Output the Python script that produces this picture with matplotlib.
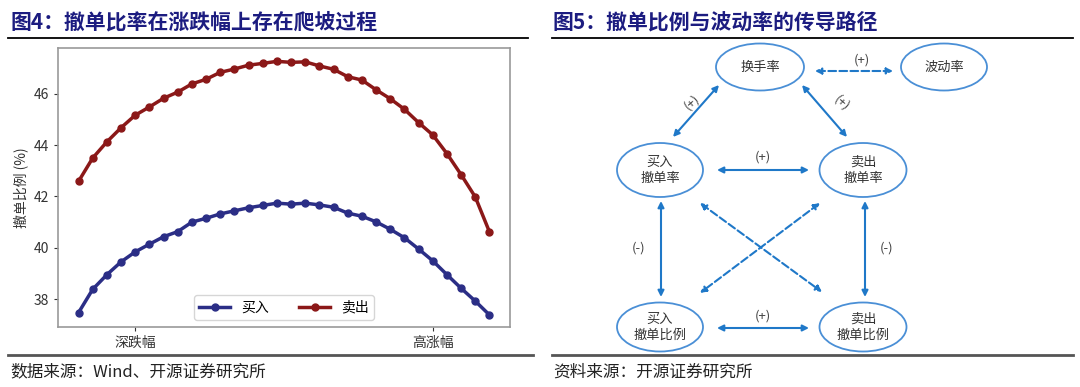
import numpy as np
import matplotlib.pyplot as plt
from matplotlib.patches import Ellipse, FancyArrowPatch

plt.rcParams['font.family'] = ['Noto Sans CJK SC', 'DejaVu Sans']

# 撤单比例 (%) across 30 buckets, from deep drop to high rise
buy_cancel = [37.47, 38.38, 38.95, 39.45, 39.84, 40.14, 40.43, 40.63, 41.00, 41.15,
              41.32, 41.44, 41.56, 41.65, 41.74, 41.70, 41.74, 41.67, 41.58, 41.35,
              41.23, 41.01, 40.72, 40.39, 39.95, 39.49, 38.95, 38.42, 37.92, 37.38]
sell_cancel = [42.59, 43.50, 44.13, 44.68, 45.17, 45.49, 45.83, 46.07, 46.39, 46.57,
               46.84, 46.97, 47.12, 47.19, 47.27, 47.23, 47.25, 47.09, 46.96, 46.67,
               46.54, 46.16, 45.81, 45.40, 44.88, 44.40, 43.67, 42.85, 41.98, 40.62]
tick_pos = [4, 25]
tick_labels = ['深跌幅', '高涨幅']
series_names = ['买入', '卖出']

# flow diagram: node name -> (label, x, y, w, h) in pixels
nodes = {
    'turnover': ('换手率', 760, 67, 88, 47),
    'vol': ('波动率', 944, 67, 86, 47),
    'buy_rate': ('买入\n撤单率', 660, 170, 86, 54),
    'sell_rate': ('卖出\n撤单率', 863, 170, 87, 54),
    'buy_ratio': ('买入\n撤单比例', 660, 327, 86, 49),
    'sell_ratio': ('卖出\n撤单比例', 863, 327, 87, 49),
}
# links: start, end, dashed, label, label pos, label rotation
links = [
    ((815, 71), (893, 71), True, '(+)', (862, 60), 0),
    ((719, 85), (673, 137), False, '(+)', (692, 102), 42),
    ((802, 85), (847, 137), False, '(+)', (842, 103), -42),
    ((717, 170), (809, 170), False, '(+)', (763, 157), 0),
    ((661, 201), (661, 297), False, '(-)', (639, 248), 0),
    ((865, 201), (865, 297), False, '(-)', (887, 248), 0),
    ((700, 203), (822, 292), True, None, None, 0),
    ((820, 203), (700, 293), True, None, None, 0),
    ((717, 328), (809, 328), False, '(+)', (763, 316), 0),
]

fig = plt.figure(figsize=(10.8, 3.87), dpi=100)

# page layer in pixel coordinates
page = fig.add_axes([0, 0, 1, 1])
page.set_xlim(0, 1080)
page.set_ylim(387, 0)
page.axis('off')

title_color = '#1c1c80'
page.text(10, 22, '图4：撤单比率在涨跌幅上存在爬坡过程', fontsize=15, fontweight='bold',
          color=title_color, va='center', ha='left')
page.text(553, 22, '图5：撤单比例与波动率的传导路径', fontsize=15, fontweight='bold',
          color=title_color, va='center', ha='left')
page.plot([8, 528], [38, 38], color='black', lw=1.3)
page.plot([552, 1073], [38, 38], color='black', lw=1.3)
page.plot([8, 533], [355, 355], color='#555555', lw=2)
page.plot([552, 1073], [355, 355], color='#555555', lw=2)
page.text(10, 372, '数据来源：Wind、开源证券研究所', fontsize=12, color='#222222',
          va='center', ha='left')
page.text(553, 372, '资料来源：开源证券研究所', fontsize=12, color='#222222',
          va='center', ha='left')

edge_c = '#4a8fd6'
arrow_c = '#1f78c8'
for key, (label, cx, cy, w, h) in nodes.items():
    page.add_patch(Ellipse((cx, cy), w, h, fill=False, ec=edge_c, lw=1.3))
    page.text(cx, cy, label, fontsize=9.5, color='#333333', ha='center', va='center',
              linespacing=1.3)

for start, end, dashed, label, lpos, rot in links:
    arr = FancyArrowPatch(start, end, arrowstyle='<|-|>', mutation_scale=9,
                          color=arrow_c, lw=1.5, linestyle='--' if dashed else '-',
                          shrinkA=0, shrinkB=0)
    page.add_patch(arr)
    if label:
        page.text(lpos[0], lpos[1], label, fontsize=9.5, color='#444444',
                  ha='center', va='center', rotation=rot)

# left line chart
ax = fig.add_axes([58 / 1080, 1 - 327 / 387, 452 / 1080, 279 / 387])
x = np.arange(len(buy_cancel))
ax.plot(x, buy_cancel, color='#2b2e86', lw=2.5, marker='o', ms=5, label=series_names[0])
ax.plot(x, sell_cancel, color='#8b1818', lw=2.5, marker='o', ms=5, label=series_names[1])
ax.set_ylim(36.91, 47.79)
ax.set_yticks([38, 40, 42, 44, 46])
ax.set_xticks(tick_pos)
ax.set_xticklabels(tick_labels)
ax.set_ylabel('撤单比例 (%)', fontsize=10, color='#333333')
ax.tick_params(labelsize=10, colors='#333333', length=3)
for sp in ax.spines.values():
    sp.set_color('#999999')
    sp.set_linewidth(1.2)
ax.legend(loc='lower center', ncol=2, fontsize=10, frameon=True, edgecolor='#cccccc',
          handlelength=2.2, columnspacing=2.2)

fig.savefig('out.png', dpi=100)
